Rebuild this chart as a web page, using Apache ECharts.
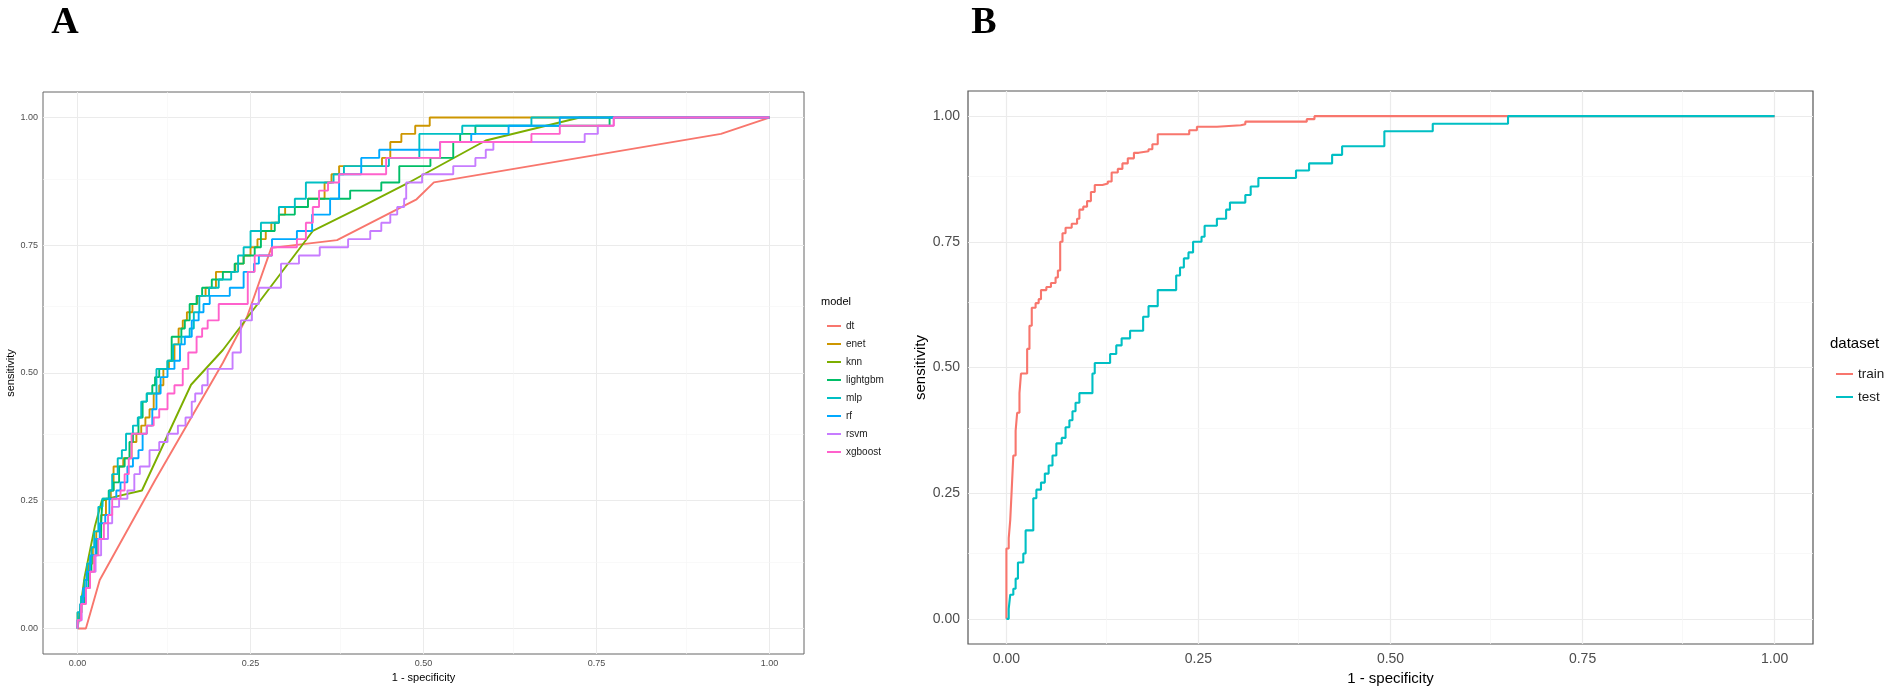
<!DOCTYPE html>
<html>
<head>
<meta charset="utf-8">
<script src="https://cdn.jsdelivr.net/npm/echarts@6/dist/echarts.min.js"></script>
<style>
html, body { margin: 0; background: #fff; }
#main { width: 1902px; height: 692px; }
</style>
</head>
<body>
<div id="main"></div>
<script>
// ---- data ----
var modelNames = ['dt', 'enet', 'knn', 'lightgbm', 'mlp', 'rf', 'rsvm', 'xgboost'];
var modelColors = ['#F8766D', '#CD9600', '#7CAE00', '#00BE67', '#00BFC4', '#00A9FF', '#C77CFF', '#FF61CC'];
var straightModels = ['dt', 'knn'];   // drawn as plain polylines, the rest are ROC steps
var tickValues = [0, 0.25, 0.5, 0.75, 1];
var minorValues = [0.125, 0.375, 0.625, 0.875];
var datasetNames = ['train', 'test'];
var datasetColors = ['#F8766D', '#00BFC4'];

// panel A : [1 - specificity, sensitivity]
var rocDt = [[0,0],[0.012,0],[0.032,0.095],[0.112,0.29],[0.21,0.52],[0.245,0.61],[0.28,0.745],[0.375,0.76],[0.49,0.84],[0.515,0.873],[0.93,0.968],[1,1]];
var rocEnet = [[0,0],[0,0.031],[0.006,0.063],[0.01,0.095],[0.016,0.127],[0.022,0.159],[0.027,0.19],[0.034,0.222],[0.041,0.254],[0.048,0.27],[0.052,0.317],[0.066,0.333],[0.078,0.365],[0.085,0.381],[0.092,0.397],[0.098,0.413],[0.104,0.429],[0.11,0.46],[0.118,0.476],[0.124,0.508],[0.132,0.524],[0.14,0.556],[0.146,0.587],[0.152,0.603],[0.158,0.619],[0.166,0.635],[0.173,0.651],[0.185,0.667],[0.2,0.698],[0.228,0.714],[0.24,0.73],[0.25,0.746],[0.26,0.762],[0.272,0.778],[0.28,0.794],[0.291,0.81],[0.3,0.825],[0.333,0.841],[0.357,0.873],[0.367,0.889],[0.378,0.905],[0.44,0.921],[0.452,0.952],[0.468,0.968],[0.488,0.984],[0.509,1],[1,1]];
var rocKnn = [[0,0],[0.01,0.1],[0.025,0.2],[0.035,0.25],[0.055,0.258],[0.093,0.27],[0.164,0.477],[0.21,0.545],[0.34,0.778],[0.41,0.825],[0.475,0.87],[0.59,0.955],[0.726,1],[1,1]];
var rocLightgbm = [[0,0],[0,0.016],[0.004,0.048],[0.01,0.079],[0.016,0.111],[0.02,0.143],[0.028,0.175],[0.034,0.206],[0.036,0.254],[0.045,0.27],[0.052,0.286],[0.06,0.317],[0.068,0.333],[0.075,0.365],[0.08,0.381],[0.088,0.413],[0.094,0.444],[0.1,0.46],[0.108,0.476],[0.112,0.492],[0.118,0.508],[0.13,0.524],[0.136,0.571],[0.15,0.587],[0.155,0.603],[0.162,0.635],[0.172,0.651],[0.18,0.667],[0.194,0.683],[0.21,0.698],[0.227,0.714],[0.24,0.73],[0.256,0.746],[0.265,0.778],[0.285,0.794],[0.291,0.81],[0.314,0.825],[0.333,0.841],[0.394,0.857],[0.439,0.873],[0.465,0.905],[0.51,0.921],[0.543,0.952],[0.553,0.968],[0.575,0.984],[0.769,1],[1,1]];
var rocMlp = [[0,0],[0,0.032],[0.005,0.063],[0.01,0.095],[0.014,0.127],[0.02,0.159],[0.024,0.19],[0.03,0.238],[0.036,0.254],[0.046,0.27],[0.05,0.302],[0.058,0.333],[0.064,0.349],[0.07,0.381],[0.08,0.397],[0.087,0.413],[0.092,0.444],[0.1,0.46],[0.114,0.508],[0.13,0.524],[0.138,0.556],[0.15,0.571],[0.162,0.587],[0.168,0.619],[0.176,0.651],[0.19,0.667],[0.204,0.683],[0.222,0.698],[0.232,0.73],[0.24,0.746],[0.25,0.778],[0.265,0.794],[0.291,0.825],[0.314,0.841],[0.33,0.873],[0.37,0.889],[0.385,0.905],[0.45,0.921],[0.494,0.968],[0.556,0.984],[0.656,1],[1,1]];
var rocRf = [[0,0],[0,0.016],[0.004,0.048],[0.008,0.079],[0.013,0.111],[0.018,0.143],[0.026,0.175],[0.032,0.206],[0.04,0.222],[0.046,0.254],[0.056,0.27],[0.062,0.286],[0.072,0.317],[0.08,0.333],[0.088,0.349],[0.094,0.381],[0.1,0.397],[0.108,0.429],[0.114,0.46],[0.12,0.492],[0.13,0.508],[0.14,0.524],[0.148,0.556],[0.155,0.571],[0.165,0.603],[0.175,0.619],[0.182,0.635],[0.191,0.651],[0.22,0.667],[0.24,0.698],[0.255,0.714],[0.262,0.73],[0.281,0.762],[0.317,0.778],[0.339,0.81],[0.365,0.841],[0.378,0.889],[0.41,0.921],[0.436,0.937],[0.524,0.952],[0.569,0.968],[0.623,0.984],[0.697,1],[1,1]];
var rocRsvm = [[0,0],[0,0.016],[0.006,0.048],[0.012,0.079],[0.018,0.111],[0.026,0.143],[0.034,0.175],[0.044,0.206],[0.05,0.238],[0.06,0.254],[0.072,0.27],[0.082,0.302],[0.09,0.317],[0.104,0.349],[0.118,0.365],[0.13,0.381],[0.145,0.397],[0.156,0.413],[0.165,0.444],[0.17,0.46],[0.18,0.476],[0.188,0.508],[0.224,0.54],[0.236,0.603],[0.252,0.635],[0.262,0.667],[0.294,0.714],[0.32,0.73],[0.35,0.746],[0.391,0.762],[0.423,0.778],[0.439,0.794],[0.452,0.81],[0.462,0.825],[0.472,0.841],[0.475,0.873],[0.498,0.889],[0.543,0.905],[0.575,0.921],[0.59,0.937],[0.601,0.952],[0.733,0.968],[0.752,0.984],[0.775,1],[1,1]];
var rocXgboost = [[0,0],[0,0.016],[0.005,0.048],[0.012,0.079],[0.018,0.111],[0.024,0.143],[0.03,0.175],[0.038,0.206],[0.044,0.222],[0.05,0.254],[0.062,0.27],[0.068,0.302],[0.074,0.333],[0.078,0.381],[0.1,0.397],[0.11,0.413],[0.118,0.429],[0.13,0.46],[0.14,0.476],[0.152,0.508],[0.16,0.54],[0.172,0.571],[0.18,0.587],[0.188,0.603],[0.204,0.635],[0.246,0.698],[0.256,0.73],[0.281,0.746],[0.317,0.762],[0.33,0.794],[0.34,0.825],[0.349,0.857],[0.362,0.873],[0.378,0.889],[0.446,0.921],[0.524,0.952],[0.656,0.968],[0.697,0.984],[0.775,1],[1,1]];
var rocModels = [rocDt, rocEnet, rocKnn, rocLightgbm, rocMlp, rocRf, rocRsvm, rocXgboost];

// panel B
var rocTrain = [[0,0],[0,0.14],[0.003,0.16],[0.005,0.197],[0.007,0.26],[0.009,0.325],[0.012,0.374],[0.014,0.41],[0.017,0.449],[0.019,0.488],[0.027,0.537],[0.03,0.583],[0.033,0.619],[0.038,0.628],[0.042,0.636],[0.045,0.654],[0.052,0.66],[0.058,0.668],[0.064,0.679],[0.067,0.693],[0.07,0.75],[0.073,0.767],[0.077,0.778],[0.085,0.786],[0.092,0.796],[0.095,0.814],[0.1,0.82],[0.105,0.831],[0.11,0.849],[0.115,0.863],[0.125,0.866],[0.132,0.87],[0.137,0.888],[0.145,0.895],[0.151,0.906],[0.158,0.916],[0.166,0.927],[0.172,0.93],[0.185,0.934],[0.19,0.944],[0.197,0.964],[0.238,0.972],[0.248,0.979],[0.274,0.982],[0.305,0.984],[0.311,0.989],[0.391,0.994],[0.401,1],[1,1]];
var rocTest = [[0,0],[0.003,0.02],[0.005,0.048],[0.009,0.06],[0.012,0.08],[0.015,0.112],[0.022,0.13],[0.025,0.176],[0.035,0.24],[0.039,0.257],[0.045,0.271],[0.05,0.289],[0.055,0.305],[0.06,0.325],[0.065,0.349],[0.072,0.36],[0.077,0.381],[0.082,0.395],[0.086,0.413],[0.09,0.43],[0.095,0.449],[0.112,0.488],[0.115,0.509],[0.135,0.527],[0.143,0.544],[0.15,0.558],[0.161,0.573],[0.178,0.601],[0.185,0.622],[0.197,0.654],[0.221,0.683],[0.226,0.699],[0.231,0.717],[0.237,0.729],[0.243,0.75],[0.254,0.76],[0.258,0.782],[0.274,0.796],[0.286,0.814],[0.291,0.828],[0.311,0.843],[0.318,0.86],[0.328,0.877],[0.377,0.892],[0.394,0.906],[0.424,0.923],[0.437,0.94],[0.492,0.97],[0.555,0.985],[0.653,1],[1,1]];
var rocDatasets = [rocTrain, rocTest];

// ---- chart ----
var FONT = '"Liberation Sans", Arial, sans-serif';
var ec = echarts.init(document.getElementById('main'));

// ggplot-like panel grid, drawn through the axes as mark lines under the curves
function panelGrid(majorWidth) {
    var major = { color: '#ebebeb', width: majorWidth, type: 'solid' };
    var minor = { color: '#f5f5f5', width: majorWidth * 0.6, type: 'solid' };
    var d = [];
    tickValues.forEach(function (v) {
        d.push({ xAxis: v, lineStyle: major });
        d.push({ yAxis: v, lineStyle: major });
    });
    minorValues.forEach(function (v) {
        d.push({ xAxis: v, lineStyle: minor });
        d.push({ yAxis: v, lineStyle: minor });
    });
    return { silent: true, symbol: 'none', z: 1, animation: false,
             label: { show: false }, emphasis: { disabled: true },
             lineStyle: { type: 'solid' }, data: d };
}

function axis(gridIndex, fontSize, tickLen, margin, name, nameSize, nameGap, isY) {
    return {
        type: 'value', gridIndex: gridIndex, min: -0.05, max: 1.05,
        name: name, nameLocation: 'middle', nameGap: nameGap, nameRotate: isY ? 90 : 0,
        nameTextStyle: { fontFamily: FONT, fontSize: nameSize, color: '#000' },
        axisLine: { show: false },
        axisTick: { show: true, customValues: tickValues, length: tickLen,
                    lineStyle: { color: '#333', width: 1 } },
        axisLabel: { customValues: tickValues, margin: margin, fontFamily: FONT,
                     fontSize: fontSize, color: '#4d4d4d',
                     formatter: function (v) { return v.toFixed(2); } },
        splitLine: { show: false }
    };
}

var series = [];
modelNames.forEach(function (m, i) {
    series.push({
        name: m, type: 'line', xAxisIndex: 0, yAxisIndex: 0,
        data: rocModels[i], showSymbol: false, symbol: 'none',
        step: straightModels.indexOf(m) >= 0 ? false : 'end',
        lineStyle: { color: modelColors[i], width: 1.9 },
        itemStyle: { color: modelColors[i] },
        markLine: i === 0 ? panelGrid(1) : undefined
    });
});
datasetNames.forEach(function (n, i) {
    series.push({
        name: n, type: 'line', xAxisIndex: 1, yAxisIndex: 1,
        data: rocDatasets[i], showSymbol: false, symbol: 'none', step: 'end',
        lineStyle: { color: datasetColors[i], width: 2.1 },
        itemStyle: { color: datasetColors[i] },
        markLine: i === 0 ? panelGrid(1.2) : undefined
    });
});

ec.setOption({
    animation: false,
    backgroundColor: '#fff',
    grid: [
        { left: 43, top: 92, width: 761, height: 562, show: true, borderColor: '#666', borderWidth: 1, backgroundColor: 'transparent' },
        { left: 968, top: 91, width: 845, height: 553, show: true, borderColor: '#555', borderWidth: 1.2, backgroundColor: 'transparent' }
    ],
    xAxis: [
        axis(0, 9, 3, 5, '1 - specificity', 11, 17, false),
        axis(1, 14, 5, 8, '1 - specificity', 15, 26, false)
    ],
    yAxis: [
        axis(0, 9, 3, 5, 'sensitivity', 11, 26, true),
        axis(1, 14, 5, 8, 'sensitivity', 15, 38, true)
    ],
    legend: [
        { data: modelNames, orient: 'vertical', left: 822, top: 315, icon: 'rect',
          itemWidth: 14, itemHeight: 2, itemGap: 6, selectedMode: false,
          textStyle: { fontFamily: FONT, fontSize: 10, lineHeight: 12, color: '#1a1a1a' } },
        { data: datasetNames, orient: 'vertical', left: 1831, top: 361, icon: 'rect',
          itemWidth: 17, itemHeight: 2, itemGap: 7, selectedMode: false,
          textStyle: { fontFamily: FONT, fontSize: 13.5, lineHeight: 16, color: '#1a1a1a' } }
    ],
    graphic: [
        { type: 'text', x: 65, y: 23, style: { text: 'A', font: 'bold 38px "Liberation Serif"', fill: '#000', align: 'center', verticalAlign: 'middle' } },
        { type: 'text', x: 984, y: 23, style: { text: 'B', font: 'bold 38px "Liberation Serif"', fill: '#000', align: 'center', verticalAlign: 'middle' } },
        { type: 'text', x: 821, y: 302, style: { text: 'model', font: '11px ' + FONT, fill: '#000', align: 'left', verticalAlign: 'middle' } },
        { type: 'text', x: 1830, y: 344, style: { text: 'dataset', font: '15px ' + FONT, fill: '#000', align: 'left', verticalAlign: 'middle' } }
    ],
    series: series
});
</script>
</body>
</html>
